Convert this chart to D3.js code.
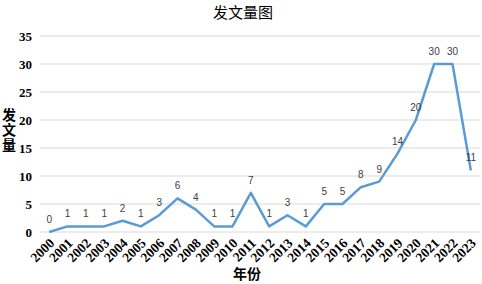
<!DOCTYPE html>
<html><head><meta charset="utf-8">
<script src="https://cdn.jsdelivr.net/npm/d3@7"></script>
<style>body{margin:0;background:#fff}svg{display:block}</style>
</head><body>
<script>
const years = ["2000","2001","2002","2003","2004","2005","2006","2007","2008","2009","2010","2011","2012","2013","2014","2015","2016","2017","2018","2019","2020","2021","2022","2023"];
const counts = [0,1,1,1,2,1,3,6,4,1,1,7,1,3,1,5,5,8,9,14,20,30,30,11];
const yTicks = [0,5,10,15,20,25,30,35];
const title = "发文量图";
const yLabel = "发文量";
const xLabel = "年份";

const W = 482, H = 284;
const m = {left:40, right:2, top:36, bottom:52};
const svg = d3.select("body").append("svg").attr("width",W).attr("height",H);
const x = d3.scaleBand().domain(years).range([m.left, W-m.right]);
const y = d3.scaleLinear().domain([0,35]).range([H-m.bottom, m.top]);
const cx = d => x(d) + x.bandwidth()/2;

const serif = "'Liberation Serif','Times New Roman',serif";
const cjk = "'Noto Sans CJK SC',sans-serif";

svg.append("g").selectAll("line").data(yTicks).join("line")
  .attr("x1", m.left).attr("x2", W-m.right)
  .attr("y1", d=>y(d)).attr("y2", d=>y(d))
  .attr("stroke", "#d9d9d9").attr("stroke-width", 1);

const yAxis = svg.append("g").attr("transform",`translate(${m.left},0)`)
  .call(d3.axisLeft(y).tickValues(yTicks).tickSize(0).tickPadding(8));
yAxis.select(".domain").remove();
yAxis.selectAll("text").attr("font-family", serif).attr("font-size", 13).attr("font-weight","bold").attr("fill","#000");

const xAxis = svg.append("g").attr("transform",`translate(0,${y(0)})`)
  .call(d3.axisBottom(x).tickSize(0).tickPadding(0));
xAxis.select(".domain").remove();
xAxis.selectAll("text")
  .attr("font-family", serif).attr("font-size", 13.5).attr("font-weight","bold").attr("fill","#000")
  .attr("text-anchor","end").attr("dy","0")
  .attr("transform", "translate(6,12) rotate(-45)");

svg.append("path").datum(counts)
  .attr("fill","none").attr("stroke","#5b9bd5").attr("stroke-width",2.5).attr("stroke-linejoin","round")
  .attr("d", d3.line().x((d,i)=>cx(years[i])).y(d=>y(d)));

svg.append("g").selectAll("text").data(counts).join("text")
  .attr("x",(d,i)=>cx(years[i])).attr("y", d=>y(d)-9)
  .attr("text-anchor","middle").attr("font-family","'Liberation Sans',Arial,sans-serif")
  .attr("font-size",10).attr("fill","#404040").text(d=>d);

svg.append("text").attr("x", 243).attr("y", 18).attr("text-anchor","middle")
  .attr("font-family", cjk).attr("font-size",15).attr("fill","#000").text(title);

svg.append("text").attr("x", 9).attr("y", 108)
  .attr("font-family", cjk).attr("font-size",14).attr("font-weight","bold").attr("fill","#000")
  .style("writing-mode","vertical-rl").style("letter-spacing","1px").text(yLabel);

svg.append("text").attr("x", 247).attr("y", 279).attr("text-anchor","middle")
  .attr("font-family", cjk).attr("font-size",14).attr("font-weight","bold").attr("fill","#000").text(xLabel);
</script>
</body></html>
